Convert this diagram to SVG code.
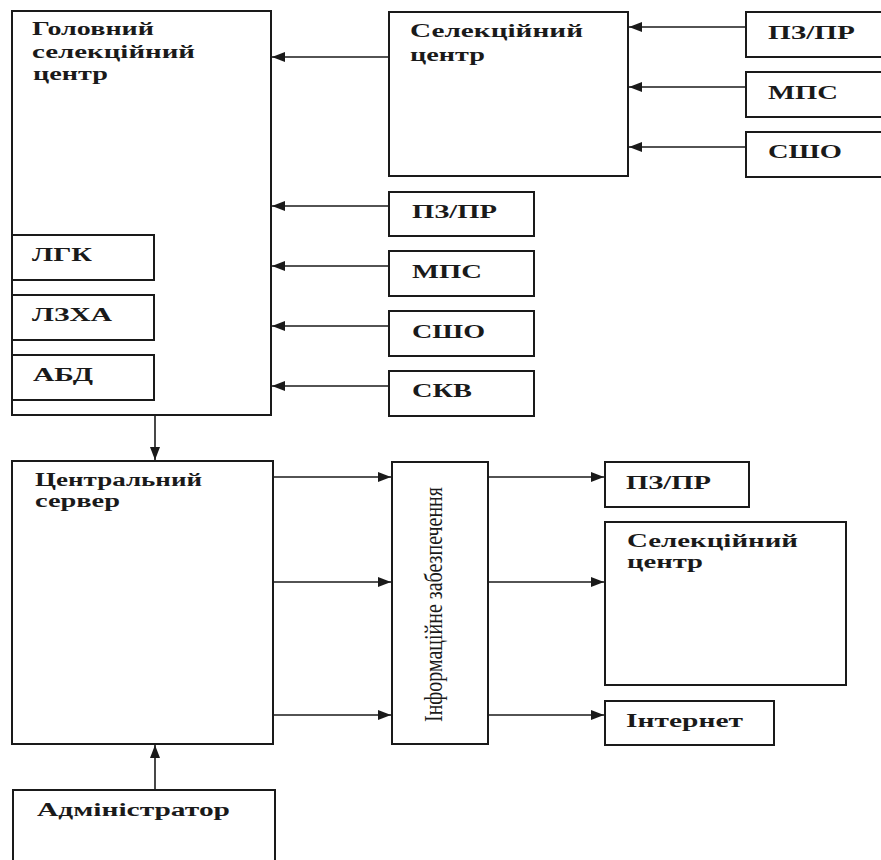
<svg xmlns="http://www.w3.org/2000/svg" width="881" height="860" viewBox="0 0 881 860">
<defs>
<style>
.box{fill:#fff;stroke:#1a1a1a;stroke-width:2}
.t{font-family:"Liberation Serif","Times New Roman",serif;font-weight:bold;font-size:18px;fill:#1a1a1a}
.v{font-family:"Liberation Serif","Times New Roman",serif;font-size:26px;fill:#1a1a1a}
.c{stroke:#1a1a1a;stroke-width:1.6;fill:none;marker-end:url(#ah)}
</style>
<marker id="ah" markerUnits="userSpaceOnUse" markerWidth="14" markerHeight="10" refX="13" refY="5" orient="auto">
<path d="M0,0 L13,5 L0,10 Z" fill="#1a1a1a"/>
</marker>
</defs>
<rect width="881" height="860" fill="#fff"/>

<g id="connectors">
<line class="c" x1="389" y1="57" x2="272" y2="57"/>
<line class="c" x1="746" y1="27" x2="629" y2="27"/>
<line class="c" x1="746" y1="87" x2="629" y2="87"/>
<line class="c" x1="746" y1="147" x2="629" y2="147"/>
<line class="c" x1="389" y1="206" x2="272" y2="206"/>
<line class="c" x1="389" y1="266" x2="272" y2="266"/>
<line class="c" x1="389" y1="326" x2="272" y2="326"/>
<line class="c" x1="389" y1="386" x2="272" y2="386"/>
<line class="c" x1="155" y1="416" x2="155" y2="460"/>
<line class="c" x1="155" y1="790" x2="155" y2="745"/>
<line class="c" x1="274" y1="477" x2="391" y2="477"/>
<line class="c" x1="274" y1="582" x2="391" y2="582"/>
<line class="c" x1="274" y1="715" x2="391" y2="715"/>
<line class="c" x1="489" y1="477" x2="604" y2="477"/>
<line class="c" x1="489" y1="582" x2="604" y2="582"/>
<line class="c" x1="489" y1="715" x2="604" y2="715"/>
</g>

<g id="main-center">
<rect class="box" x="12" y="11" width="259" height="404"/>
<text class="t" x="32" y="35" textLength="122" lengthAdjust="spacingAndGlyphs">Головний</text>
<text class="t" x="32" y="58" textLength="163" lengthAdjust="spacingAndGlyphs">селекційний</text>
<text class="t" x="33" y="80" textLength="75" lengthAdjust="spacingAndGlyphs">центр</text>
</g>
<g id="lgk">
<rect class="box" x="12" y="235" width="142" height="45"/>
<text class="t" x="32" y="261" textLength="60" lengthAdjust="spacingAndGlyphs">ЛГК</text>
</g>
<g id="lzha">
<rect class="box" x="12" y="295" width="142" height="45"/>
<text class="t" x="32" y="321" textLength="80" lengthAdjust="spacingAndGlyphs">ЛЗХА</text>
</g>
<g id="abd">
<rect class="box" x="12" y="355" width="142" height="45"/>
<text class="t" x="33" y="381" textLength="60" lengthAdjust="spacingAndGlyphs">АБД</text>
</g>

<g id="sel-center-top">
<rect class="box" x="389" y="12" width="239" height="164"/>
<text class="t" x="410" y="37" textLength="173" lengthAdjust="spacingAndGlyphs">Селекційний</text>
<text class="t" x="410" y="61" textLength="75" lengthAdjust="spacingAndGlyphs">центр</text>
</g>

<g id="pz-top">
<rect class="box" x="746" y="12" width="145" height="45"/>
<text class="t" x="768" y="39" textLength="87" lengthAdjust="spacingAndGlyphs">ПЗ/ПР</text>
</g>
<g id="mps-top">
<rect class="box" x="746" y="72" width="145" height="45"/>
<text class="t" x="768" y="99" textLength="70" lengthAdjust="spacingAndGlyphs">МПС</text>
</g>
<g id="sho-top">
<rect class="box" x="746" y="132" width="145" height="45"/>
<text class="t" x="768" y="158" textLength="74" lengthAdjust="spacingAndGlyphs">СШО</text>
</g>

<g id="pz-mid">
<rect class="box" x="389" y="192" width="145" height="44"/>
<text class="t" x="412" y="218" textLength="85" lengthAdjust="spacingAndGlyphs">ПЗ/ПР</text>
</g>
<g id="mps-mid">
<rect class="box" x="389" y="251" width="145" height="45"/>
<text class="t" x="412" y="278" textLength="70" lengthAdjust="spacingAndGlyphs">МПС</text>
</g>
<g id="sho-mid">
<rect class="box" x="389" y="311" width="145" height="45"/>
<text class="t" x="412" y="338" textLength="73" lengthAdjust="spacingAndGlyphs">СШО</text>
</g>
<g id="skv-mid">
<rect class="box" x="389" y="371" width="145" height="45"/>
<text class="t" x="412" y="397" textLength="60" lengthAdjust="spacingAndGlyphs">СКВ</text>
</g>

<g id="central-server">
<rect class="box" x="12" y="461" width="261" height="283"/>
<text class="t" x="35" y="486" textLength="167" lengthAdjust="spacingAndGlyphs">Центральний</text>
<text class="t" x="35" y="507" textLength="85" lengthAdjust="spacingAndGlyphs">сервер</text>
</g>

<g id="admin">
<rect class="box" x="13" y="790" width="262" height="80"/>
<text class="t" x="37" y="816" textLength="193" lengthAdjust="spacingAndGlyphs">Адміністратор</text>
</g>

<g id="info">
<rect class="box" x="392" y="462" width="96" height="282"/>
<text class="v" transform="translate(442,722) rotate(-90)" x="0" y="0" textLength="235" lengthAdjust="spacingAndGlyphs">Інформаційне забезпечення</text>
</g>

<g id="pz-bottom">
<rect class="box" x="605" y="462" width="144" height="45"/>
<text class="t" x="626" y="489" textLength="85" lengthAdjust="spacingAndGlyphs">ПЗ/ПР</text>
</g>
<g id="sel-center-bottom">
<rect class="box" x="605" y="522" width="241" height="163"/>
<text class="t" x="627" y="547" textLength="171" lengthAdjust="spacingAndGlyphs">Селекційний</text>
<text class="t" x="627" y="568" textLength="76" lengthAdjust="spacingAndGlyphs">центр</text>
</g>
<g id="internet">
<rect class="box" x="605" y="701" width="169" height="44"/>
<text class="t" x="626" y="727" textLength="117" lengthAdjust="spacingAndGlyphs">Інтернет</text>
</g>
</svg>
